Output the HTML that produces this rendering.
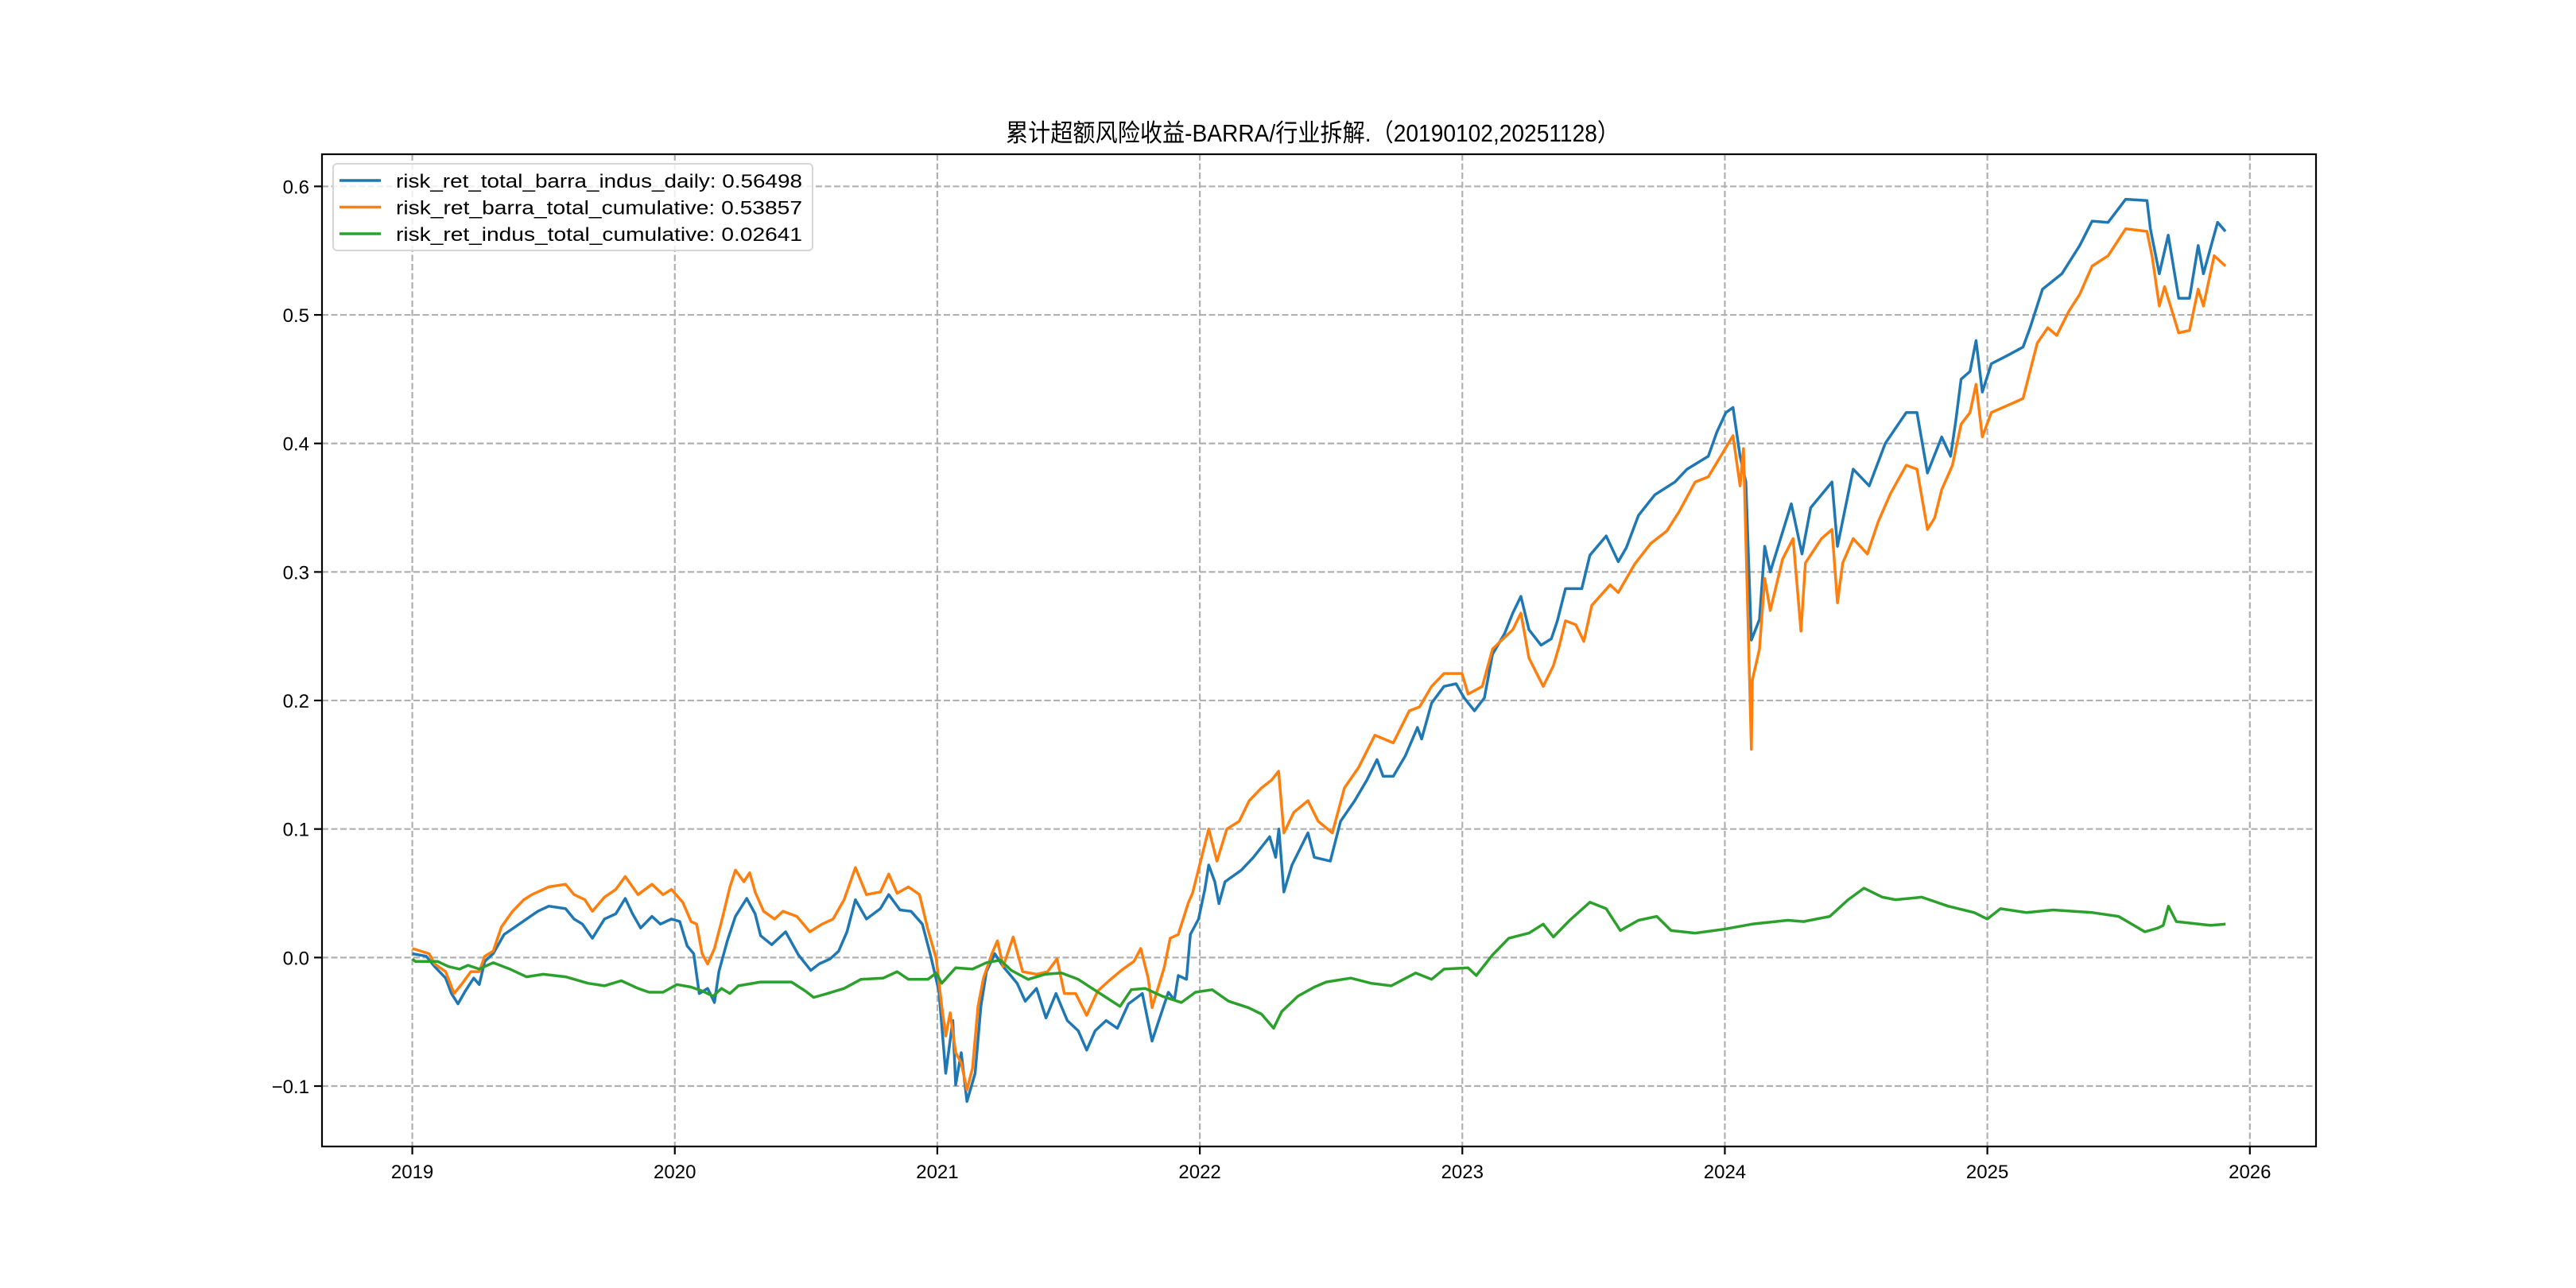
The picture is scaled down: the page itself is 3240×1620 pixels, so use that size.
<!DOCTYPE html>
<html><head><meta charset="utf-8"><style>
html,body{margin:0;padding:0;background:#fff;}
svg{display:block;}
text{font-family:"Liberation Sans","Noto Sans CJK SC",sans-serif;fill:#000;}
</style></head><body>
<svg id="chart" width="3240" height="1620" viewBox="0 0 3240 1620" xmlns="http://www.w3.org/2000/svg">
<rect width="3240" height="1620" fill="#fff"/>
<text x="1651" y="178" text-anchor="middle" font-size="31" textLength="772" lengthAdjust="spacingAndGlyphs">累计超额风险收益-BARRA/行业拆解.（20190102,20251128）</text>
<g id="grid"></g><g id="series"></g><g id="axes"></g><g id="legend"></g>
</svg>
<script>
const yTicks=[-0.1,0,0.1,0.2,0.3,0.4,0.5,0.6];
const yTickLabels=['−0.1','0.0','0.1','0.2','0.3','0.4','0.5','0.6'];
const xTicks=[2019,2020,2021,2022,2023,2024,2025,2026];
const xTickLabels=['2019','2020','2021','2022','2023','2024','2025','2026'];
const seriesNames=['risk_ret_total_barra_indus_daily: 0.56498','risk_ret_barra_total_cumulative: 0.53857','risk_ret_indus_total_cumulative: 0.02641'];
const totalSeries=[[2019.000,0.003],[2019.053,0.001],[2019.085,-0.007],[2019.127,-0.016],[2019.149,-0.028],[2019.174,-0.036],[2019.202,-0.026],[2019.234,-0.016],[2019.255,-0.021],[2019.276,-0.003],[2019.308,0.003],[2019.350,0.018],[2019.393,0.024],[2019.435,0.030],[2019.478,0.036],[2019.520,0.040],[2019.584,0.038],[2019.616,0.030],[2019.648,0.026],[2019.686,0.015],[2019.732,0.030],[2019.775,0.034],[2019.811,0.046],[2019.839,0.034],[2019.870,0.023],[2019.913,0.032],[2019.945,0.026],[2019.987,0.030],[2020.019,0.028],[2020.047,0.009],[2020.072,0.003],[2020.093,-0.028],[2020.125,-0.024],[2020.151,-0.035],[2020.168,-0.011],[2020.200,0.013],[2020.231,0.032],[2020.274,0.046],[2020.306,0.034],[2020.327,0.017],[2020.369,0.010],[2020.422,0.020],[2020.471,0.002],[2020.518,-0.010],[2020.550,-0.005],[2020.592,-0.001],[2020.624,0.005],[2020.656,0.020],[2020.688,0.045],[2020.730,0.030],[2020.783,0.038],[2020.815,0.049],[2020.858,0.037],[2020.900,0.036],[2020.943,0.026],[2020.975,0.001],[2021.006,-0.026],[2021.032,-0.090],[2021.059,-0.049],[2021.070,-0.099],[2021.091,-0.074],[2021.113,-0.112],[2021.144,-0.090],[2021.166,-0.038],[2021.187,-0.011],[2021.219,0.003],[2021.251,-0.007],[2021.304,-0.020],[2021.335,-0.034],[2021.378,-0.024],[2021.414,-0.047],[2021.452,-0.028],[2021.495,-0.049],[2021.537,-0.057],[2021.569,-0.072],[2021.601,-0.057],[2021.643,-0.049],[2021.686,-0.055],[2021.728,-0.036],[2021.781,-0.028],[2021.818,-0.065],[2021.849,-0.046],[2021.880,-0.027],[2021.903,-0.033],[2021.918,-0.014],[2021.949,-0.017],[2021.964,0.018],[2021.995,0.030],[2022.019,0.053],[2022.034,0.072],[2022.057,0.059],[2022.073,0.042],[2022.096,0.059],[2022.158,0.068],[2022.204,0.078],[2022.266,0.094],[2022.289,0.078],[2022.301,0.100],[2022.320,0.051],[2022.351,0.072],[2022.412,0.097],[2022.436,0.078],[2022.497,0.075],[2022.536,0.106],[2022.590,0.122],[2022.636,0.138],[2022.675,0.154],[2022.698,0.141],[2022.737,0.141],[2022.783,0.157],[2022.829,0.179],[2022.845,0.170],[2022.883,0.198],[2022.930,0.211],[2022.976,0.213],[2023.007,0.202],[2023.046,0.192],[2023.084,0.202],[2023.115,0.236],[2023.161,0.252],[2023.192,0.268],[2023.223,0.281],[2023.254,0.255],[2023.300,0.243],[2023.339,0.248],[2023.362,0.262],[2023.393,0.287],[2023.455,0.287],[2023.486,0.313],[2023.548,0.328],[2023.594,0.308],[2023.625,0.319],[2023.671,0.344],[2023.733,0.360],[2023.810,0.370],[2023.856,0.380],[2023.937,0.390],[2023.970,0.409],[2024.004,0.424],[2024.031,0.428],[2024.058,0.390],[2024.080,0.370],[2024.101,0.247],[2024.132,0.263],[2024.152,0.320],[2024.173,0.300],[2024.253,0.353],[2024.294,0.314],[2024.327,0.350],[2024.408,0.370],[2024.429,0.320],[2024.489,0.380],[2024.550,0.367],[2024.611,0.400],[2024.691,0.424],[2024.732,0.424],[2024.772,0.377],[2024.826,0.405],[2024.860,0.390],[2024.880,0.418],[2024.900,0.450],[2024.934,0.456],[2024.957,0.480],[2024.981,0.440],[2025.015,0.462],[2025.082,0.469],[2025.136,0.475],[2025.163,0.490],[2025.210,0.520],[2025.284,0.532],[2025.352,0.554],[2025.399,0.573],[2025.460,0.572],[2025.527,0.590],[2025.608,0.589],[2025.621,0.567],[2025.655,0.532],[2025.689,0.562],[2025.729,0.513],[2025.770,0.513],[2025.803,0.554],[2025.823,0.532],[2025.877,0.572],[2025.907,0.565]];
const barraSeries=[[2019.000,0.007],[2019.064,0.003],[2019.085,-0.005],[2019.127,-0.011],[2019.159,-0.028],[2019.191,-0.020],[2019.223,-0.011],[2019.255,-0.011],[2019.276,0.001],[2019.308,0.005],[2019.340,0.024],[2019.382,0.036],[2019.425,0.045],[2019.456,0.049],[2019.520,0.055],[2019.584,0.057],[2019.616,0.049],[2019.657,0.045],[2019.686,0.036],[2019.732,0.047],[2019.775,0.053],[2019.811,0.063],[2019.860,0.049],[2019.913,0.057],[2019.955,0.049],[2019.987,0.053],[2020.030,0.043],[2020.062,0.028],[2020.083,0.026],[2020.104,0.003],[2020.125,-0.005],[2020.151,0.007],[2020.178,0.028],[2020.210,0.055],[2020.231,0.068],[2020.263,0.059],[2020.285,0.066],[2020.306,0.051],[2020.338,0.036],[2020.380,0.030],[2020.412,0.036],[2020.465,0.032],[2020.514,0.020],[2020.561,0.026],[2020.603,0.030],[2020.645,0.045],[2020.688,0.070],[2020.730,0.049],[2020.783,0.051],[2020.815,0.065],[2020.847,0.050],[2020.890,0.055],[2020.932,0.049],[2020.964,0.022],[2020.996,-0.001],[2021.017,-0.038],[2021.032,-0.061],[2021.049,-0.043],[2021.070,-0.074],[2021.091,-0.082],[2021.113,-0.103],[2021.134,-0.086],[2021.155,-0.038],[2021.176,-0.016],[2021.208,0.003],[2021.229,0.013],[2021.251,-0.007],[2021.289,0.016],[2021.325,-0.011],[2021.378,-0.013],[2021.420,-0.011],[2021.456,-0.001],[2021.484,-0.028],[2021.527,-0.028],[2021.569,-0.045],[2021.611,-0.026],[2021.654,-0.018],[2021.707,-0.009],[2021.749,-0.003],[2021.775,0.007],[2021.803,-0.016],[2021.818,-0.039],[2021.864,-0.008],[2021.887,0.015],[2021.918,0.018],[2021.957,0.043],[2021.972,0.050],[2022.003,0.075],[2022.034,0.100],[2022.065,0.075],[2022.103,0.100],[2022.150,0.106],[2022.188,0.122],[2022.235,0.132],[2022.273,0.138],[2022.300,0.145],[2022.320,0.097],[2022.358,0.113],[2022.412,0.122],[2022.451,0.106],[2022.505,0.097],[2022.551,0.132],[2022.605,0.148],[2022.667,0.173],[2022.737,0.167],[2022.798,0.192],[2022.837,0.195],[2022.883,0.211],[2022.930,0.221],[2022.999,0.221],[2023.022,0.205],[2023.076,0.211],[2023.115,0.240],[2023.161,0.249],[2023.192,0.255],[2023.223,0.268],[2023.254,0.233],[2023.308,0.211],[2023.347,0.227],[2023.370,0.243],[2023.393,0.262],[2023.432,0.259],[2023.463,0.246],[2023.493,0.274],[2023.563,0.290],[2023.594,0.284],[2023.656,0.306],[2023.717,0.322],[2023.779,0.332],[2023.826,0.347],[2023.887,0.370],[2023.937,0.374],[2024.031,0.406],[2024.058,0.367],[2024.071,0.396],[2024.101,0.162],[2024.105,0.216],[2024.132,0.240],[2024.152,0.295],[2024.173,0.270],[2024.220,0.310],[2024.260,0.326],[2024.290,0.254],[2024.307,0.307],[2024.368,0.326],[2024.408,0.333],[2024.429,0.276],[2024.449,0.307],[2024.489,0.326],[2024.543,0.314],[2024.584,0.339],[2024.631,0.361],[2024.691,0.383],[2024.732,0.380],[2024.772,0.333],[2024.799,0.342],[2024.826,0.364],[2024.867,0.383],[2024.900,0.415],[2024.934,0.424],[2024.957,0.446],[2024.981,0.405],[2025.015,0.424],[2025.082,0.430],[2025.136,0.435],[2025.190,0.478],[2025.230,0.490],[2025.264,0.484],[2025.311,0.503],[2025.352,0.516],[2025.399,0.538],[2025.460,0.546],[2025.527,0.567],[2025.608,0.565],[2025.628,0.545],[2025.655,0.507],[2025.675,0.522],[2025.729,0.486],[2025.770,0.488],[2025.803,0.520],[2025.823,0.507],[2025.864,0.546],[2025.907,0.538]];
const indusSeries=[[2019.000,-0.001],[2019.011,-0.003],[2019.096,-0.003],[2019.138,-0.007],[2019.180,-0.009],[2019.212,-0.006],[2019.255,-0.009],[2019.308,-0.004],[2019.372,-0.009],[2019.435,-0.015],[2019.499,-0.013],[2019.584,-0.015],[2019.669,-0.020],[2019.732,-0.022],[2019.796,-0.018],[2019.860,-0.024],[2019.902,-0.027],[2019.955,-0.027],[2020.008,-0.021],[2020.062,-0.023],[2020.104,-0.026],[2020.146,-0.030],[2020.178,-0.024],[2020.210,-0.028],[2020.242,-0.022],[2020.327,-0.019],[2020.444,-0.019],[2020.497,-0.026],[2020.529,-0.031],[2020.582,-0.028],[2020.645,-0.024],[2020.709,-0.017],[2020.794,-0.016],[2020.847,-0.011],[2020.890,-0.017],[2020.964,-0.017],[2020.996,-0.012],[2021.017,-0.020],[2021.070,-0.008],[2021.134,-0.009],[2021.187,-0.004],[2021.240,-0.002],[2021.282,-0.010],[2021.346,-0.017],[2021.410,-0.013],[2021.473,-0.012],[2021.537,-0.017],[2021.590,-0.024],[2021.643,-0.031],[2021.696,-0.038],[2021.739,-0.025],[2021.792,-0.024],[2021.856,-0.030],[2021.930,-0.035],[2021.983,-0.027],[2022.047,-0.025],[2022.110,-0.034],[2022.185,-0.039],[2022.235,-0.044],[2022.281,-0.055],[2022.312,-0.042],[2022.374,-0.030],[2022.436,-0.023],[2022.482,-0.019],[2022.575,-0.016],[2022.652,-0.020],[2022.729,-0.022],[2022.822,-0.012],[2022.883,-0.017],[2022.930,-0.009],[2023.022,-0.008],[2023.053,-0.014],[2023.115,0.002],[2023.177,0.015],[2023.254,0.019],[2023.308,0.026],[2023.347,0.016],[2023.409,0.029],[2023.486,0.043],[2023.548,0.038],[2023.602,0.021],[2023.671,0.029],[2023.741,0.032],[2023.795,0.021],[2023.887,0.019],[2023.995,0.022],[2024.104,0.026],[2024.239,0.029],[2024.300,0.028],[2024.400,0.032],[2024.470,0.045],[2024.530,0.054],[2024.600,0.047],[2024.650,0.045],[2024.750,0.047],[2024.850,0.040],[2024.950,0.035],[2025.000,0.030],[2025.050,0.038],[2025.150,0.035],[2025.250,0.037],[2025.400,0.035],[2025.500,0.032],[2025.600,0.020],[2025.650,0.023],[2025.670,0.025],[2025.690,0.040],[2025.720,0.028],[2025.850,0.025],[2025.907,0.026]];

const NS='http://www.w3.org/2000/svg';
const L=405,R=2913,T=194,B=1442;
const X0=2018.656,X1=2026.252,Y0=-0.147,Y1=0.625;
function xs(v){return L+(v-X0)/(X1-X0)*(R-L);}
function ys(v){return B-(v-Y0)/(Y1-Y0)*(B-T);}
function mk(tag,attrs,parent){const e=document.createElementNS(NS,tag);for(const k in attrs)e.setAttribute(k,attrs[k]);parent.appendChild(e);return e;}
const grid=document.getElementById('grid'),ser=document.getElementById('series'),axes=document.getElementById('axes'),leg=document.getElementById('legend');
xTicks.forEach((t,i)=>{
  const x=xs(t);
  const g=mk('line',{x1:x,x2:x,y1:T,y2:B,stroke:'#b0b0b0','stroke-width':2.2,'stroke-dasharray':'8,3.5'},grid);
  
  
  const tk=mk('line',{x1:x,x2:x,y1:B,y2:B+10,stroke:'#000','stroke-width':2.2},axes);
  
  
  const tx=mk('text',{x:x,y:B+40,'text-anchor':'middle','font-size':24},axes);
  tx.textContent=xTickLabels[i];
  
  
});
yTicks.forEach((t,i)=>{
  const y=ys(t);
  const g=mk('line',{x1:L,x2:R,y1:y,y2:y,stroke:'#b0b0b0','stroke-width':2.2,'stroke-dasharray':'8,3.5'},grid);
  
  
  const tk=mk('line',{x1:L-10,x2:L,y1:y,y2:y,stroke:'#000','stroke-width':2.2},axes);
  
  
  const tx=mk('text',{x:L-16,y:y+9,'text-anchor':'end','font-size':24},axes);
  tx.textContent=yTickLabels[i];
  
  
});
const frame=mk('rect',{x:L,y:T,width:R-L,height:B-T,fill:'none',stroke:'#000','stroke-width':2.2},axes);


const colors=['#1f77b4','#ff7f0e','#2ca02c'];
const lineNames=['total-barra-indus-line','barra-total-line','indus-total-line'];
[totalSeries,barraSeries,indusSeries].forEach((s,i)=>{
  const d=s.map((p,j)=>(j?'L':'M')+xs(p[0]).toFixed(1)+','+ys(p[1]).toFixed(1)).join('');
  const p=mk('path',{d:d,fill:'none',stroke:colors[i],'stroke-width':3.5,'stroke-linejoin':'round'},ser);
  
  
});
const box=mk('rect',{x:419,y:206,width:603,height:109,rx:5,fill:'#fff','fill-opacity':0.8,stroke:'#d6d6d6','stroke-width':2},leg);


seriesNames.forEach((n,i)=>{
  const y=227+i*33.5;
  const ln=mk('line',{x1:427,x2:479,y1:y,y2:y,stroke:colors[i],'stroke-width':3.5},leg);
  
  
  const tx=mk('text',{x:498,y:y+9,'font-size':24,textLength:511,lengthAdjust:'spacingAndGlyphs'},leg);
  tx.textContent=n;
  
  
});
</script>
</body></html>
